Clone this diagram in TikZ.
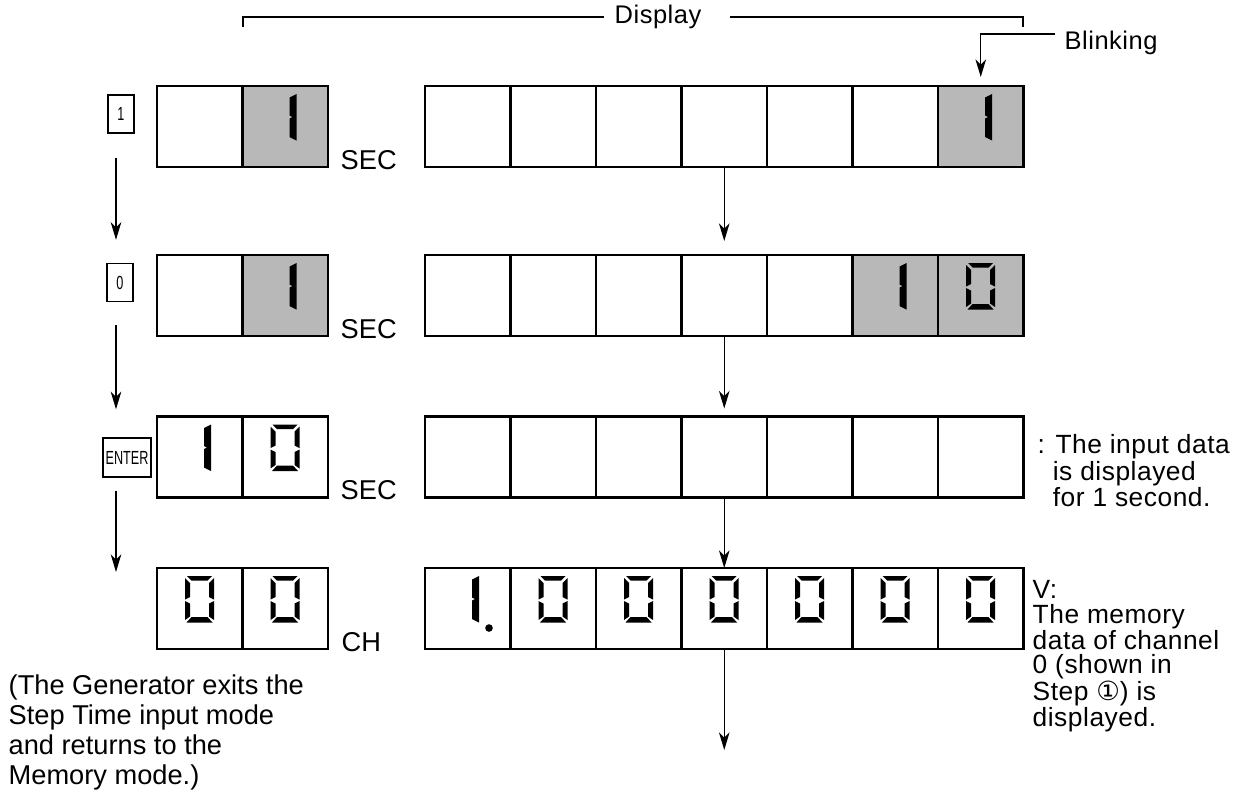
\documentclass[tikz,border=0pt]{standalone}
\usepackage{fontspec}
\setmainfont{Liberation Sans}
\newfontfamily\symfont{DejaVu Sans}
\usetikzlibrary{arrows.meta,calc,backgrounds}

\newcommand\lblfont{\fontsize{15.5}{17}\selectfont}
\newcommand\headfont{\fontsize{14.5}{14}\selectfont\addfontfeature{LetterSpace=2}}
\newcommand\notefont{\fontsize{15}{13.8}\selectfont\addfontfeature{LetterSpace=2}}
\newcommand\keyfont{\fontsize{9}{9}\selectfont}
\newcommand\keytext[1]{\scalebox{0.8}[1.2]{#1}}

\tikzset{
  cell/.style={draw,line width=1.2pt,minimum width=1.71cm,minimum height=1.62cm,inner sep=0pt,outer sep=0pt},
  lit/.style={fill=black!28},
  key/.style={draw,line width=0.8pt,minimum width=0.52cm,minimum height=0.76cm,inner sep=1pt,font=\keyfont},
  lbl/.style={font=\lblfont,inner sep=0pt},
  note/.style={font=\notefont,align=left,inner sep=0pt},
  segzero/.pic={
    \fill (30,8) -- (55,8) -- (50.5,12.5) -- (34.5,12.5) -- cycle;
    \fill (28,10) -- (33,15) -- (33,29) -- (28,31.5) -- cycle;
    \fill (57,10) -- (57,31.5) -- (52,29) -- (52,15) -- cycle;
    \fill (28,33) -- (33,35.5) -- (33,48.5) -- (28,52) -- cycle;
    \fill (57,33) -- (57,52) -- (52,48.5) -- (52,35.5) -- cycle;
    \fill (34.5,49) -- (50.5,49) -- (55.5,54.5) -- (29.5,54.5) -- cycle;
  },
  segone/.pic={
    \fill (47,11.5) -- (54,8) -- (54,54.5) -- (47,51) -- (47,32.5) -- (50,31) -- (47,29.5) -- cycle;
  },
  segdot/.pic={\fill (64,60) circle (3.8);},
}

\begin{document}
\begin{tikzpicture}[x=0.02cm,y=-0.02cm,>={Stealth[length=10pt,width=6pt,inset=3pt]},line width=0.8pt]
\useasboundingbox (0,0) rectangle (1247,801);
% display cells
\foreach \r/\top in {1/86,2/255,3/416.5,4/568}{
  \foreach \c in {1,2}
    \node[cell] (L\r-\c) at ({157+(\c-0.5)*85.5},{\top+40.5}) {};
  \foreach \c in {1,...,7}
    \node[cell] (R\r-\c) at ({425+(\c-0.5)*85.5},{\top+40.5}) {};
}
% blinking cells
\begin{scope}[on background layer]
\foreach \n in {L1-2,L2-2,R1-7,R2-6,R2-7}
  \fill[lit] (\n.north west) rectangle (\n.south east);
\end{scope}
% digits
\foreach \n in {L1-2,L2-2,L3-1,R1-7,R2-6,R4-1}
  \pic at (\n.north west) {segone};
\foreach \n in {L3-2,L4-1,L4-2,R2-7,R4-2,R4-3,R4-4,R4-5,R4-6,R4-7}
  \pic at (\n.north west) {segzero};
\pic at (R4-1.north west) {segdot};
% units
\node[lbl,anchor=base west] (sec1) at (340,169) {SEC};
\node[lbl,anchor=base west] (sec2) at (340,338) {SEC};
\node[lbl,anchor=base west] (sec3) at (340,499) {SEC};
\node[lbl,anchor=base west] (ch) at (341,651) {CH};
% keys
\node[key] (k1) at (121,114) {\keytext{1}};
\node[key] (k0) at (120,282.5) {\keytext{0}};
\node[key,minimum width=0.96cm,minimum height=0.78cm] (kent) at (127,457.5) {\keytext{ENTER}};
\coordinate (kend) at (116,572);
\draw[->] ($(k1.south)+(-5,24)$) -- ($(k0.north)+(-4,-23)$);
\draw[->] ($(k0.south)+(-4,23)$) -- ($(kent.north)+(-11,-28)$);
\draw[->] ($(kent.south)+(-11,13)$) -- (kend);
% flow of the display
\coordinate (more) at ($(R4-4.south)+(0,101)$);
\draw[->] (R1-4.south) -- ($(R2-4.north)+(0,-14)$);
\draw[->] (R2-4.south) -- ($(R3-4.north)+(0,-8)$);
\draw[->] (R3-4.south) -- (R4-4.north);
\draw[->] (R4-4.south) -- (more);
% bracket
\node[font=\headfont,inner sep=0pt] (disp) at (658,17) {Display};
\coordinate (bl) at (243,27);
\coordinate (br) at (1023,27);
\draw (bl) |- ($(disp.west)+(-10,0)$);
\draw ($(disp.east)+(28,0)$) -| (br);
\node[font=\headfont,inner sep=0pt,anchor=base west] (blink) at (1064,50) {Blinking};
\coordinate (bk) at (1055,34);
\draw[->] (bk) -| ($(R1-7.north)+(0,-9)$);
% notes
\node[note,anchor=north west] (n1) at (1037,434) {: The input data\\\hphantom{:}\ is displayed\\\hphantom{:}\ for 1 second.};
\node[note,anchor=north west] (n2) at (1032,580) {V:\\The memory\\data of channel\\0 (shown in\\Step {\symfont ①}) is\\displayed.};
\node[lbl,align=left,anchor=north west] (exitnote) at (8,674) {(The Generator exits the\\Step Time input mode\\and returns to the\\Memory mode.)};
\end{tikzpicture}
\end{document}
